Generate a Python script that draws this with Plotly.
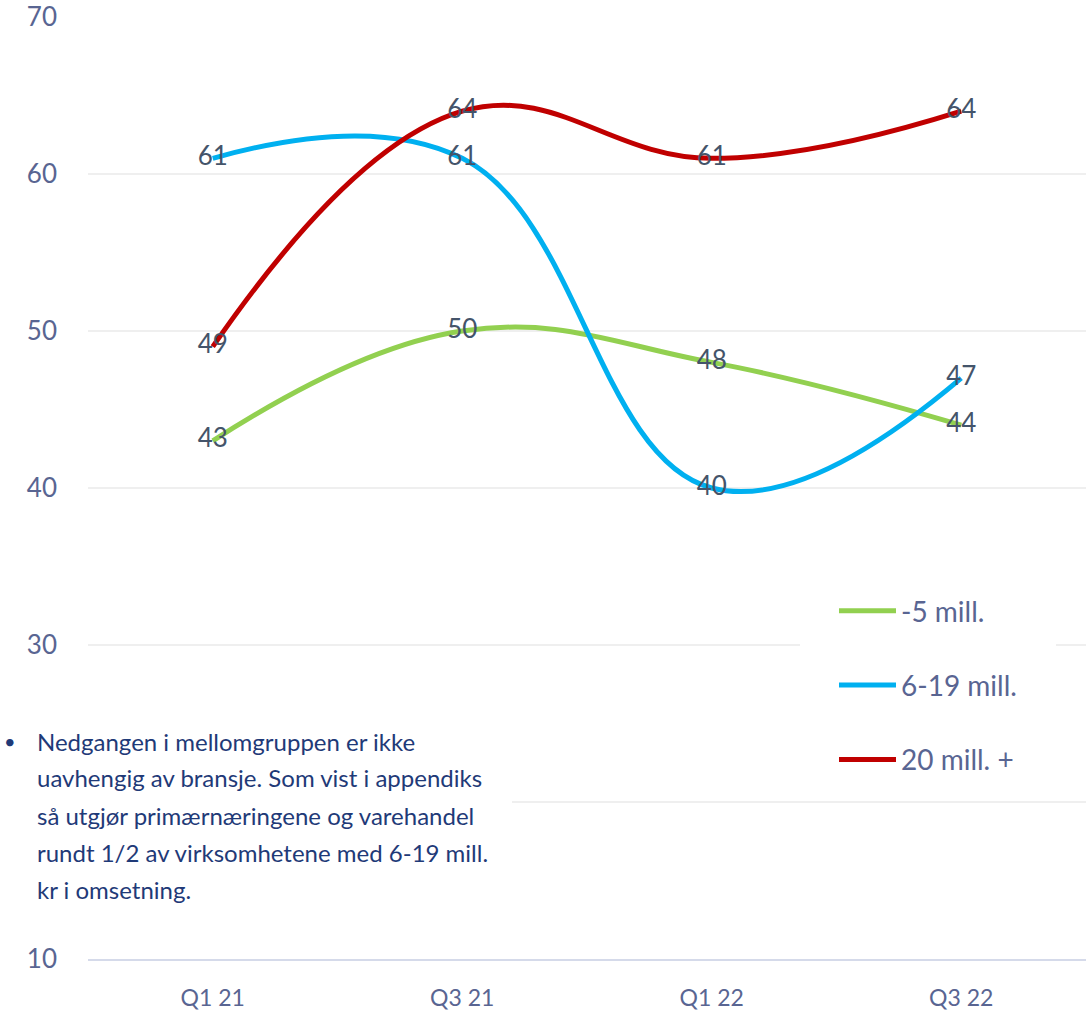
import plotly.graph_objects as go

categories = ["Q1 21", "Q3 21", "Q1 22", "Q3 22"]
series_names = ["-5 mill.", "6-19 mill.", "20 mill. +"]
small = [43, 50, 48, 44]
medium = [61, 61, 40, 47]
large = [49, 64, 61, 64]
colors = ["#92D050", "#00B0F0", "#C00000"]
y_ticks = [10, 20, 30, 40, 50, 60, 70]
y_tick_text = ["10", "", "30", "40", "50", "60", "70"]
note_lines = [
    "Nedgangen i mellomgruppen er ikke",
    "uavhengig av bransje. Som vist i appendiks",
    "så utgjør primærnæringene og varehandel",
    "rundt 1/2 av virksomhetene med 6-19 mill.",
    "kr i omsetning.",
]

W, H = 1091, 1016
L, R, T, B = 88, 5, 17, 57
pw, ph = W - L - R, H - T - B

def px_x(x):
    return (x - L) / pw

def px_y(y):
    return (H - B - y) / ph

label_color = "#44546A"
tick_color = "#596592"
fig = go.Figure()
for i, (name, vals) in enumerate(zip(series_names, [small, medium, large])):
    fig.add_trace(go.Scatter(
        x=categories, y=vals, name=name, mode="lines+text",
        text=[str(v) for v in vals], textposition="middle center",
        textfont=dict(family="Lato", size=26, color=label_color),
        line=dict(color=colors[i], width=5, shape="spline", smoothing=1.2),
        legendgroup=name, cliponaxis=False,
    ))

shapes = [
    dict(type="rect", xref="paper", yref="paper", layer="above",
         x0=px_x(-2), x1=px_x(512), y0=px_y(900), y1=px_y(718),
         fillcolor="white", line=dict(width=0)),
    dict(type="rect", xref="paper", yref="paper", layer="above",
         x0=px_x(800), x1=px_x(1056), y0=px_y(796), y1=px_y(585),
         fillcolor="white", line=dict(width=0)),
]

annotations = [dict(text="•", xref="paper", yref="paper", x=px_x(2), y=px_y(741),
                    xanchor="left", yanchor="middle", showarrow=False,
                    font=dict(family="Lato", size=20, color="#1F3A78"))]
for k, line in enumerate(note_lines):
    annotations.append(dict(text=line, xref="paper", yref="paper",
                            x=px_x(35), y=px_y(741 + 37 * k),
                            xanchor="left", yanchor="middle", showarrow=False,
                            font=dict(family="Lato", size=24, color="#1F3A78")))

fig.update_layout(
    width=W, height=H,
    margin=dict(l=L, r=R, t=T, b=B, autoexpand=False),
    plot_bgcolor="white", paper_bgcolor="white",
    font=dict(family="Lato", color=tick_color),
    showlegend=True,
    legend=dict(x=px_x(834), y=px_y(586), xanchor="left", yanchor="top",
                bgcolor="rgba(0,0,0,0)", borderwidth=0, tracegroupgap=35,
                itemwidth=57, entrywidth=200,
                font=dict(family="Lato", size=28, color=tick_color)),
    shapes=shapes,
    annotations=annotations,
)
fig.update_xaxes(type="category", range=[-0.5, 3.5], showgrid=False,
                 showline=True, linecolor="#D5DAEA", linewidth=2,
                 ticks="", ticklabelstandoff=17, automargin=False,
                 tickfont=dict(family="Lato", size=23, color=tick_color))
fig.update_yaxes(range=[10, 70], tickvals=y_ticks, ticktext=y_tick_text,
                 showgrid=True, automargin=False,
                 gridcolor="#EFEFEF", gridwidth=2, zeroline=False,
                 showline=False, ticks="", ticklabelstandoff=30,
                 tickfont=dict(family="Lato", size=26, color=tick_color))

fig.write_html("out.html", config={"displayModeBar": False},
               post_script="document.body.style.margin='0';")
